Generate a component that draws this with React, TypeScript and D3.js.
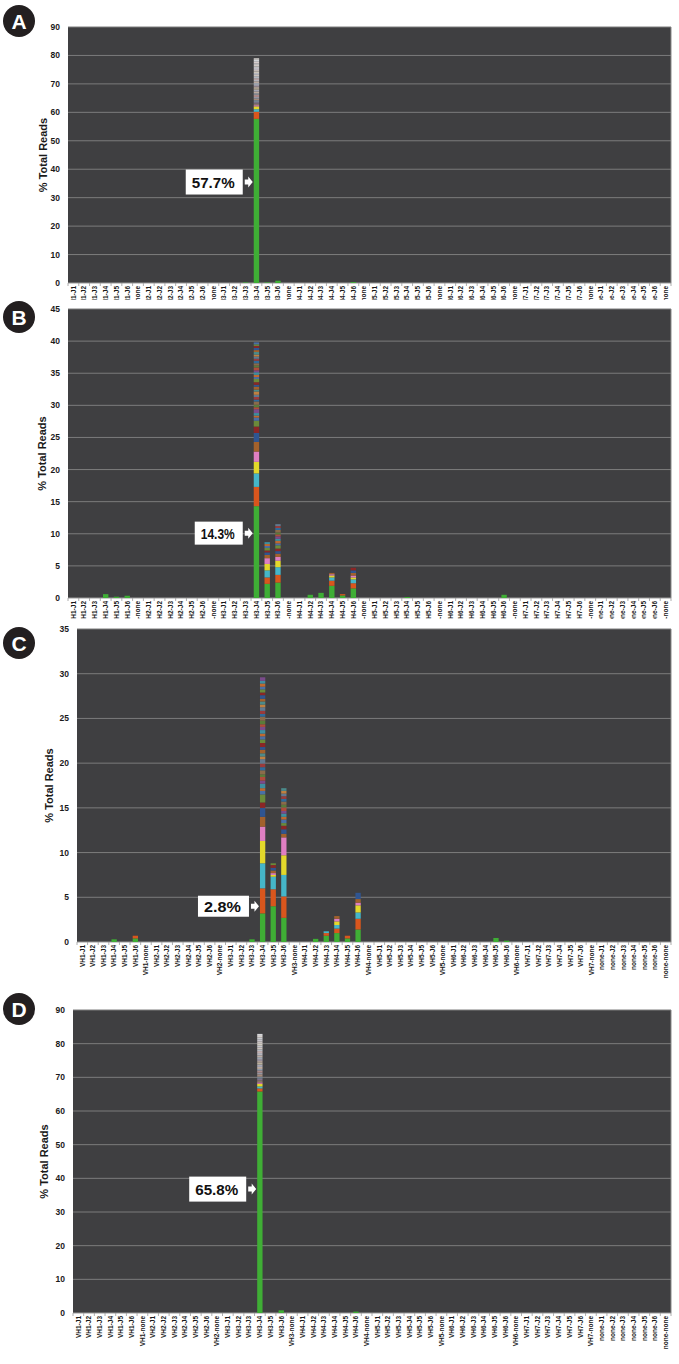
import React from 'react';
import * as d3 from 'd3';

// ---------- categories ----------
const VH_GENES = ['VH1', 'VH2', 'VH3', 'VH4', 'VH5', 'VH6', 'VH7', 'none'];
const JH_GENES = ['J1', 'J2', 'J3', 'J4', 'J5', 'J6', 'none'];
const CATEGORIES = VH_GENES.flatMap((v) => JH_GENES.map((j) => `${v}-${j}`));

// ---------- data (stack segments, bottom to top, % total reads) ----------
type Bar = { cat: string; segs: number[] };

const PANEL_A: Bar[] = [
  { cat: 'VH3-J3', segs: [0.2] },
  {
    cat: 'VH3-J4',
    segs: [57.7, 2.5, 0.9, 1.0, 0.4,
      0.6, 0.5, 0.7, 0.5, 0.6, 0.8, 0.5, 0.6, 0.7, 0.5, 0.6, 0.5, 0.7, 0.6,
      0.5, 0.6, 0.7, 0.5, 0.6, 0.5, 0.6, 0.7, 0.5, 0.6, 0.5, 0.6, 0.7, 0.5],
  },
  { cat: 'VH3-J5', segs: [0.2] },
  { cat: 'VH3-J6', segs: [0.8] },
  { cat: 'VH4-J6', segs: [0.3] },
];

const PANEL_B: Bar[] = [
  { cat: 'VH1-J4', segs: [0.6] },
  { cat: 'VH1-J5', segs: [0.2] },
  { cat: 'VH1-J6', segs: [0.35] },
  {
    cat: 'VH3-J4',
    segs: [14.3, 3.0, 2.1, 1.8, 1.6,
      1.5, 1.4, 1.0, 0.9, 0.5, 0.3, 0.4, 0.6, 0.3, 0.4, 0.5, 0.3, 0.4, 0.35,
      0.5, 0.3, 0.45, 0.3, 0.4, 0.5, 0.3, 0.35, 0.4, 0.3, 0.45, 0.3, 0.35,
      0.4, 0.3, 0.35, 0.3, 0.4, 0.3, 0.35, 0.3, 0.25, 0.3],
  },
  { cat: 'VH3-J5', segs: [2.2, 1.0, 1.1, 1.0, 0.9, 0.5, 0.4, 0.3, 0.4, 0.3, 0.3, 0.3] },
  {
    cat: 'VH3-J6',
    segs: [2.4, 1.2, 1.2, 1.0, 0.6, 0.5, 0.4, 0.4, 0.5, 0.3, 0.4, 0.3, 0.4, 0.3,
      0.3, 0.4, 0.3, 0.3, 0.3],
  },
  { cat: 'VH4-J2', segs: [0.5] },
  { cat: 'VH4-J3', segs: [0.8] },
  { cat: 'VH4-J4', segs: [1.9, 0.8, 0.5, 0.3, 0.2, 0.2] },
  { cat: 'VH4-J5', segs: [0.4, 0.2] },
  { cat: 'VH4-J6', segs: [1.5, 0.8, 0.6, 0.3, 0.3, 0.4, 0.4, 0.4] },
  { cat: 'VH5-J4', segs: [0.15] },
  { cat: 'VH6-J6', segs: [0.5] },
];

const PANEL_C: Bar[] = [
  { cat: 'VH1-J4', segs: [0.3] },
  { cat: 'VH1-J6', segs: [0.4, 0.3] },
  { cat: 'VH3-J3', segs: [0.3] },
  {
    cat: 'VH3-J4',
    segs: [3.2, 2.8, 2.8, 2.5, 1.6,
      1.1, 1.0, 0.6, 0.9, 0.4, 0.3, 0.5, 0.35, 0.4, 0.3, 0.45, 0.35, 0.4, 0.5,
      0.3, 0.35, 0.4, 0.3, 0.45, 0.4, 0.35, 0.3, 0.4, 0.35, 0.3, 0.4, 0.45,
      0.3, 0.35, 0.4, 0.3, 0.35, 0.3, 0.4, 0.3, 0.35, 0.3, 0.35, 0.3, 0.4],
  },
  { cat: 'VH3-J5', segs: [4.0, 1.9, 1.4, 0.2, 0.2, 0.3, 0.3, 0.3, 0.2] },
  {
    cat: 'VH3-J6',
    segs: [2.7, 2.4, 2.4, 2.2, 2.0, 0.4, 0.5, 0.4, 0.3, 0.4, 0.3, 0.35, 0.3,
      0.4, 0.3, 0.35, 0.3, 0.3, 0.3, 0.3, 0.3],
  },
  { cat: 'VH4-J2', segs: [0.35] },
  { cat: 'VH4-J3', segs: [0.7, 0.3, 0.2] },
  { cat: 'VH4-J4', segs: [1.0, 0.5, 0.4, 0.4, 0.3, 0.3] },
  { cat: 'VH4-J5', segs: [0.4, 0.3] },
  { cat: 'VH4-J6', segs: [1.4, 1.2, 0.7, 0.8, 0.3, 0.4, 0.7] },
  { cat: 'VH6-J5', segs: [0.45] },
  { cat: 'VH6-J6', segs: [0.15] },
];

const PANEL_D: Bar[] = [
  {
    cat: 'VH3-J4',
    segs: [65.8, 0.9, 0.6, 0.8, 0.4,
      0.6, 0.5, 0.6, 0.7, 0.5, 0.6, 0.5, 0.6, 0.7, 0.5, 0.6, 0.5, 0.6, 0.5,
      0.7, 0.6, 0.5, 0.6, 0.5, 0.6, 0.7, 0.5, 0.6, 0.5, 0.6],
  },
  { cat: 'VH3-J6', segs: [0.8] },
  { cat: 'VH4-J6', segs: [0.4] },
];

const PANELS = [PANEL_A, PANEL_B, PANEL_C, PANEL_D];
const LETTERS = ['A', 'B', 'C', 'D'];
const Y_MAX = [90, 45, 35, 90];
const Y_STEP = [10, 5, 5, 10];
const CALLOUT_TEXT = ['57.7%', '14.3%', '2.8%', '65.8%'];
const CALLOUT_VALUE = [35.5, 10.1, 4.0, 36.8];
const CALLOUT_CAT = 'VH3-J4';
const Y_TITLE = '% Total Reads';

// ---------- styles / layout ----------
const FONT = '"Liberation Sans", Arial, Helvetica, sans-serif';
const CORE_COLORS = ['#3fae35', '#d9561d', '#45b6c9', '#e3d82b', '#df7fc2'];
const VIVID_TAIL = ['#a2612c', '#2f5591', '#8b2626', '#6b8a3a', '#4a6fa6', '#c0692f',
  '#3e8fa0', '#7a4b8b', '#b04b3c', '#5b7b3a', '#8b6b4a', '#2f6b9b', '#9b3b3b',
  '#617990', '#c08040', '#4b8b8b'];
const MUTED_TAIL = ['#8a7468', '#7c6f86', '#6e7c8c', '#9c8070', '#8a8a98', '#a07878',
  '#7f8b9b', '#b09a8a', '#9090a2', '#a89a7c'];
const MUTED_PANEL = [true, false, false, true];

const LAYOUT = [
  { left: 68, right: 671, top: 27, bottom: 283, clip: 17, badgeY: 21, titleX: 47, boxW: 57, boxH: 25 },
  { left: 68, right: 671, top: 309, bottom: 598, clip: 21, badgeY: 317, titleX: 46, boxW: 48, boxH: 23 },
  { left: 77, right: 671, top: 629, bottom: 942, clip: 0, badgeY: 643, titleX: 53, boxW: 51, boxH: 21 },
  { left: 73, right: 671, top: 1010, bottom: 1313, clip: 0, badgeY: 1009, titleX: 48, boxW: 57, boxH: 25 },
];

function segColor(panel: number, i: number, n: number): string {
  if (i < CORE_COLORS.length) return CORE_COLORS[i];
  const k = i - CORE_COLORS.length;
  if (MUTED_PANEL[panel]) {
    const base = MUTED_TAIL[k % MUTED_TAIL.length];
    const t = k / Math.max(1, n - CORE_COLORS.length - 1);
    return d3.interpolateRgb(base, '#e4e4e4')(t * 0.85);
  }
  return VIVID_TAIL[k % VIVID_TAIL.length];
}

function Panel({ idx }: { idx: number }) {
  const L = LAYOUT[idx];
  const data = PANELS[idx];
  const x = d3.scaleBand<string>().domain(CATEGORIES).range([L.left, L.right]).paddingInner(0.5).paddingOuter(0.25);
  const y = d3.scaleLinear().domain([0, Y_MAX[idx]]).range([L.bottom, L.top]);
  const ticks = d3.range(0, Y_MAX[idx] + Y_STEP[idx] / 2, Y_STEP[idx]);
  const step = x.step();
  const bw = x.bandwidth();
  const clipId = `lblclip${idx}`;

  const barX = (x(CALLOUT_CAT) as number);
  const cy = y(CALLOUT_VALUE[idx]);
  const boxRight = barX - 11;
  const boxLeft = boxRight - L.boxW;
  const a0 = boxRight + 2;
  const a1 = barX - 1;

  return (
    <g>
      {/* badge */}
      <circle cx={19} cy={L.badgeY} r={16} fill="#231f20" />
      <text x={19} y={L.badgeY + 7.5} textAnchor="middle" fontFamily={FONT} fontWeight="bold" fontSize={21} fill="#fff">
        {LETTERS[idx]}
      </text>

      {/* plot background */}
      <rect x={L.left} y={L.top} width={L.right - L.left} height={L.bottom - L.top} fill="#3f3f41" />
      {ticks.map((t) => (
        <line key={t} x1={L.left} x2={L.right} y1={y(t)} y2={y(t)} stroke={t === 0 ? '#9a9a9a' : '#7c7c7c'} strokeWidth={1} />
      ))}
      <line x1={L.right} x2={L.right} y1={L.top} y2={L.bottom} stroke="#8a8a8a" strokeWidth={1} />

      {/* y ticks */}
      {ticks.map((t) => (
        <text key={`yt${t}`} x={L.left - 8} y={y(t) + 3} textAnchor="end" fontFamily={FONT} fontWeight="bold" fontSize={8.5} fill="#1a1a1a">
          {t}
        </text>
      ))}
      <text
        transform={`translate(${L.titleX},${(L.top + L.bottom) / 2}) rotate(-90)`}
        textAnchor="middle"
        fontFamily={FONT}
        fontWeight="bold"
        fontSize={11}
        fill="#1a1a1a"
      >
        {Y_TITLE}
      </text>

      {/* bars */}
      {data.map((b) => {
        const tops = Array.from(d3.cumsum(b.segs));
        const bx = x(b.cat) as number;
        return (
          <g key={b.cat}>
            {b.segs.map((v, i) => {
              const y1 = y(tops[i]);
              const y0 = y(tops[i] - v);
              return (
                <rect key={i} x={bx} y={y1} width={bw} height={Math.max(0.4, y0 - y1)} fill={segColor(idx, i, b.segs.length)} />
              );
            })}
          </g>
        );
      })}

      {/* x ticks & labels */}
      {L.clip > 0 && (
        <clipPath id={clipId}>
          <rect x={L.left - 10} y={L.bottom} width={L.right - L.left + 20} height={L.clip} />
        </clipPath>
      )}
      <g clipPath={L.clip > 0 ? `url(#${clipId})` : undefined}>
        {CATEGORIES.map((c) => {
          const cx = (x(c) as number) + bw / 2;
          const b0 = cx - step / 2;
          return (
            <g key={c}>
              <line x1={b0} x2={b0} y1={L.bottom} y2={L.bottom + 3} stroke="#9a9a9a" strokeWidth={0.8} />
              <text
                transform={`translate(${cx + 2.3},${L.bottom + 3}) rotate(-90)`}
                textAnchor="end"
                fontFamily={FONT}
                fontWeight="bold"
                fontSize={6.5}
                fill="#1a1a1a"
              >
                {c}
              </text>
            </g>
          );
        })}
        <line x1={L.right} x2={L.right} y1={L.bottom} y2={L.bottom + 3} stroke="#9a9a9a" strokeWidth={0.8} />
      </g>

      {/* callout */}
      <rect x={boxLeft} y={cy - L.boxH / 2} width={L.boxW} height={L.boxH} fill="#fff" />
      <text
        x={boxLeft + 6}
        y={cy + 5.5}
        fontFamily={FONT}
        fontWeight="bold"
        fontSize={15.5}
        fill="#111"
        textLength={L.boxW - 14}
        lengthAdjust="spacingAndGlyphs"
      >
        {CALLOUT_TEXT[idx]}
      </text>
      <polygon
        points={[
          [a0, cy - 2.5], [a1 - 4.5, cy - 2.5], [a1 - 4.5, cy - 5.5], [a1, cy],
          [a1 - 4.5, cy + 5.5], [a1 - 4.5, cy + 2.5], [a0, cy + 2.5],
        ].map((p) => p.join(',')).join(' ')}
        fill="#fff"
      />
    </g>
  );
}

export default function App() {
  return (
    <svg
      width={679}
      height={1364}
      viewBox="0 0 679 1364"
      style={{ position: 'absolute', left: 0, top: 0, display: 'block', background: '#fff' }}
    >
      <rect x={0} y={0} width={679} height={1364} fill="#fff" />
      {PANELS.map((_, i) => (
        <Panel key={i} idx={i} />
      ))}
    </svg>
  );
}
